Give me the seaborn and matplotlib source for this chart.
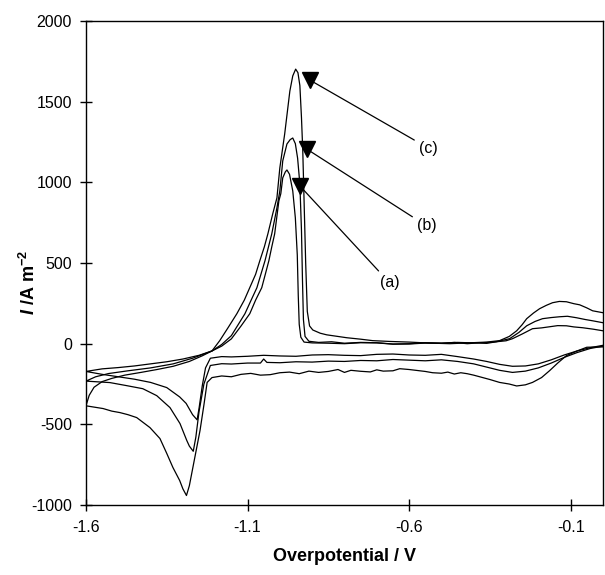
import pandas as pd
import matplotlib
matplotlib.use("Agg")
import matplotlib.pyplot as plt
import seaborn as sns

# scan (a): forward sweep 0 -> -1.6 V, then back to 0 V
a_v = [0.00, -0.04, -0.08, -0.12, -0.16, -0.20, -0.24, -0.28, -0.32, -0.36, -0.40, -0.45,
       -0.50, -0.55, -0.60, -0.65, -0.70, -0.75, -0.80, -0.85, -0.90, -0.95, -1.00, -1.05,
       -1.10, -1.15, -1.18, -1.215, -1.23, -1.24, -1.25,
       -1.256, -1.27, -1.29, -1.31, -1.35, -1.40, -1.45, -1.50, -1.55, -1.60,
       -1.55, -1.50, -1.45, -1.40, -1.35, -1.30, -1.25, -1.21, -1.18, -1.15, -1.12, -1.093,
       -1.075, -1.056, -1.045, -1.034, -1.025, -1.016, -1.003, -0.997, -0.991, -0.983, -0.978,
       -0.970, -0.960, -0.952, -0.946, -0.943, -0.940, -0.935, -0.925, -0.915, -0.90, -0.85,
       -0.80, -0.75, -0.70, -0.65, -0.60, -0.55, -0.50, -0.46, -0.42, -0.38, -0.35, -0.30,
       -0.28, -0.25, -0.218, -0.19, -0.165, -0.14, -0.113, -0.09, -0.063, -0.03, 0.00]
a_i = [-10, -25, -45, -70, -100, -125, -138, -140, -128, -110, -95, -80,
       -66, -72, -70, -64, -66, -74, -72, -68, -70, -78, -76, -72,
       -78, -82, -80, -90, -150, -260, -400,
       -472, -440, -370, -330, -272, -240, -220, -205, -190, -172,
       -156, -148, -138, -125, -112, -95, -72, -45, -15, 30, 110, 186,
       270, 347, 430, 514, 600, 681, 885, 930, 1028, 1065, 1077,
       1050, 947, 780, 550, 300, 120, 40, 10, 8, 5, 3,
       0, 6, 5, -3, -2, 4, 2, 8, 0, 6, 8, 18,
       31, 60, 93, 98, 105, 112, 111, 104, 99, 90, 80]

# scan (b)
b_v = [0.00, -0.04, -0.08, -0.12, -0.16, -0.20, -0.24, -0.28, -0.32, -0.36, -0.40, -0.45,
       -0.50, -0.55, -0.60, -0.65, -0.70, -0.75, -0.80, -0.85, -0.90, -0.95, -1.00, -1.04,
       -1.05, -1.06, -1.10, -1.15, -1.18, -1.215, -1.235, -1.25, -1.26,
       -1.268, -1.28, -1.288, -1.309, -1.34, -1.381, -1.424, -1.474, -1.526, -1.60,
       -1.57, -1.53, -1.47, -1.40, -1.33, -1.27, -1.21, -1.18, -1.15, -1.108, -1.09, -1.071,
       -1.046, -1.025, -1.009, -1.000, -0.991, -0.978, -0.968, -0.960, -0.952, -0.945, -0.938,
       -0.933, -0.930, -0.927, -0.922, -0.910, -0.88, -0.84, -0.80, -0.75, -0.70, -0.65,
       -0.60, -0.55, -0.50, -0.45, -0.40, -0.36, -0.33, -0.289, -0.26, -0.236, -0.21, -0.187,
       -0.16, -0.134, -0.11, -0.082, -0.055, -0.032, 0.00]
b_i = [-15, -30, -55, -85, -120, -150, -170, -178, -165, -145, -125, -110,
       -100, -106, -102, -98, -106, -104, -110, -108, -114, -112, -118, -116,
       -95, -120, -120, -126, -124, -135, -250, -420, -580,
       -667, -635, -600, -495, -396, -322, -279, -260, -241, -232,
       -205, -185, -168, -150, -125, -90, -45, -5, 50, 186, 265, 347,
       514, 681, 842, 947, 1133, 1238, 1265, 1275, 1240, 1150, 990,
       700, 400, 150, 45, 15, 8, 12, 3, 8, 6, -2,
       0, 6, 4, 8, 5, 2, 12, 31, 70, 111, 138, 155,
       162, 167, 170, 161, 150, 142, 130]

# scan (c)
c_v = [0.00, -0.05, -0.08, -0.113, -0.14, -0.165, -0.19, -0.218, -0.24, -0.267, -0.29, -0.32,
       -0.35, -0.372, -0.40, -0.42, -0.44, -0.46, -0.48, -0.50, -0.527, -0.55, -0.58, -0.60,
       -0.629, -0.65, -0.68, -0.70, -0.72, -0.75, -0.78, -0.80, -0.82, -0.85, -0.88, -0.91,
       -0.94, -0.97, -1.00, -1.03, -1.06, -1.09, -1.12, -1.15, -1.18, -1.21,
       -1.225, -1.235, -1.247, -1.269, -1.28, -1.289,
       -1.30, -1.31, -1.331, -1.35, -1.371, -1.402, -1.443, -1.47, -1.495, -1.52, -1.547, -1.60,
       -1.59, -1.575, -1.55, -1.52, -1.48, -1.43, -1.38, -1.33, -1.28, -1.24, -1.21, -1.186,
       -1.16, -1.133, -1.11, -1.093, -1.075, -1.062, -1.048, -1.037, -1.022, -1.009, -1.000,
       -0.985, -0.969, -0.960, -0.951, -0.944, -0.938, -0.933, -0.929, -0.925, -0.920, -0.915,
       -0.908, -0.898, -0.875, -0.855, -0.82, -0.793, -0.75, -0.713, -0.66, -0.60, -0.54,
       -0.474, -0.42, -0.36, -0.32, -0.29, -0.267, -0.25, -0.236, -0.215, -0.196, -0.175,
       -0.156, -0.135, -0.113, -0.09, -0.072, -0.05, -0.032, 0.00]
c_i = [-20, -22, -45, -74, -120, -167, -210, -240, -255, -262, -250, -240,
       -222, -210, -195, -186, -180, -188, -176, -183, -180, -172, -165, -160,
       -155, -168, -170, -162, -175, -171, -165, -178, -160, -172, -178, -170,
       -186, -176, -180, -192, -195, -184, -190, -205, -200, -210,
       -240, -380, -538, -767, -880, -941,
       -900, -848, -767, -680, -588, -520, -458, -440, -427, -418, -402, -385,
       -320, -270, -235, -215, -195, -178, -160, -140, -110, -75, -45, 19,
       100, 186, 270, 347, 430, 514, 600, 681, 805, 904, 1090,
       1300, 1566, 1660, 1702, 1680, 1600, 1400, 1195, 885, 500, 200,
       110, 85, 65, 55, 45, 37, 28, 19, 14, 10, 4,
       0, 5, 10, 19, 45, 80, 118, 155, 190, 217, 238,
       254, 262, 260, 248, 241, 222, 204, 192]

labels = ["(a)", "(b)", "(c)"]
tip_v = [-0.938, -0.917, -0.907]
tip_i = [978, 1207, 1634]
text_v = [-0.691, -0.576, -0.570]
text_i = [378, 730, 1213]

frames = []
for name, v, i in [("a", a_v, a_i), ("b", b_v, b_i), ("c", c_v, c_i)]:
    frames.append(pd.DataFrame({"V": v, "I": i, "scan": name}))
df = pd.concat(frames, ignore_index=True)

sns.set_style("ticks")
plt.rcParams["font.family"] = ["Liberation Sans", "DejaVu Sans"]
plt.rcParams["axes.unicode_minus"] = False
plt.rcParams["text.color"] = "black"
plt.rcParams["axes.labelcolor"] = "black"
plt.rcParams["mathtext.fontset"] = "custom"
plt.rcParams["mathtext.rm"] = "Liberation Sans:bold"
plt.rcParams["mathtext.it"] = "Liberation Sans:bold:italic"
plt.rcParams["mathtext.bf"] = "Liberation Sans:bold"

fig = plt.figure(figsize=(6.05, 5.75), dpi=100)
ax = fig.add_axes([0.1421, 0.1217, 0.8545, 0.8417])

sns.lineplot(data=df, x="V", y="I", units="scan", estimator=None, sort=False,
             color="black", linewidth=0.9, ax=ax)

for lab, tx, ty, xx, yy in zip(labels, tip_v, tip_i, text_v, text_i):
    ax.annotate(lab, xy=(tx, ty), xytext=(xx, yy), ha="left", va="center",
                fontsize=11.5, color="black",
                arrowprops=dict(arrowstyle="-", color="black", lw=0.9,
                                shrinkA=1, shrinkB=0))
ax.plot(tip_v, tip_i, linestyle="none", marker="v", markersize=11, color="black")

ax.set_xlim(-1.6, 0.0)
ax.set_ylim(-1000, 2000)
ax.set_xticks([-1.6, -1.1, -0.6, -0.1])
ax.set_xticklabels(["-1.6", "-1.1", "-0.6", "-0.1"])
ax.set_yticks(range(-1000, 2001, 500))
ax.tick_params(direction="inout", length=8, width=1, labelsize=11.5,
               colors="black", labelcolor="black")
ax.tick_params(axis="y", pad=6)
ax.tick_params(axis="x", pad=7)
for s in ax.spines.values():
    s.set_linewidth(1.0)
    s.set_color("black")

ax.set_xlabel("Overpotential / V", fontsize=13, fontweight="bold", labelpad=9, color="black")
ax.set_ylabel(r"$\mathit{I}$ /A m$^{\mathrm{-2}}$", fontsize=13, fontweight="bold", color="black")
ax.yaxis.set_label_coords(-0.09, 0.46)

fig.savefig("out.png", dpi=100)
